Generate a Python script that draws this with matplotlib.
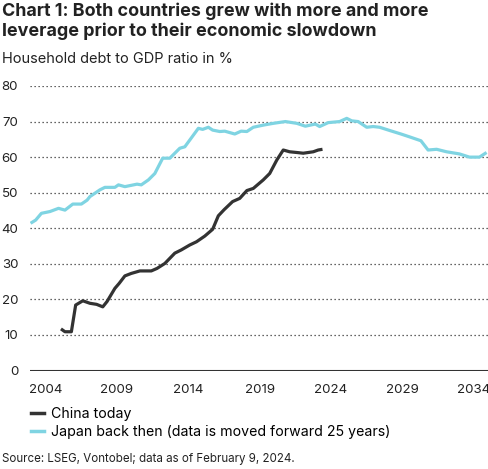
import matplotlib
matplotlib.use("Agg")
import matplotlib.pyplot as plt
from matplotlib.lines import Line2D

# ---- data ----
china_years = [2005.07, 2005.35, 2005.8, 2006.1, 2006.6, 2007.1, 2007.57, 2008.0, 2008.3,
               2008.85, 2009.15, 2009.55, 2010.0, 2010.6, 2011.4, 2011.8, 2012.35, 2013.05,
               2013.5, 2014.1, 2014.57, 2015.15, 2015.7, 2016.1, 2016.5, 2017.1, 2017.6,
               2018.1, 2018.55, 2019.25, 2019.7, 2020.2, 2020.65, 2021.1, 2021.6, 2022.05,
               2022.75, 2023.1, 2023.4]
china_values = [11.7, 10.9, 10.9, 18.4, 19.6, 18.9, 18.6, 17.9, 19.4,
                23.1, 24.5, 26.6, 27.3, 28.0, 28.0, 28.7, 30.1, 33.0,
                33.9, 35.3, 36.2, 37.8, 39.7, 43.5, 45.2, 47.5, 48.4,
                50.6, 51.2, 53.6, 55.4, 59.2, 62.0, 61.5, 61.3, 61.1,
                61.5, 62.0, 62.2]

japan_years = [2002.94, 2003.3, 2003.7, 2004.3, 2004.9, 2005.35, 2005.9, 2006.5, 2006.9,
               2007.1, 2007.8, 2008.15, 2008.85, 2009.1, 2009.55, 2010.4, 2010.7, 2011.2,
               2011.65, 2012.2, 2012.7, 2013.4, 2013.75, 2014.7, 2015.0, 2015.4, 2015.7,
               2016.2, 2016.55, 2017.25, 2017.7, 2018.1, 2018.55, 2019.25, 2019.95, 2020.8,
               2021.6, 2022.2, 2022.9, 2023.2, 2023.8, 2024.6, 2025.1, 2025.45, 2025.9,
               2026.5, 2026.95, 2027.4, 2028.1, 2028.9, 2029.5, 2030.3, 2030.8, 2031.4,
               2032.1, 2033.0, 2033.7, 2034.4, 2034.9]
japan_values = [41.4, 42.3, 44.2, 44.7, 45.6, 45.1, 46.8, 46.8, 47.9,
                48.9, 50.8, 51.5, 51.5, 52.2, 51.7, 52.4, 52.2, 53.6,
                55.4, 59.7, 59.7, 62.5, 62.9, 68.1, 67.8, 68.4, 67.6,
                67.2, 67.3, 66.5, 67.3, 67.2, 68.4, 69.0, 69.5, 70.0,
                69.5, 68.7, 69.3, 68.6, 69.7, 70.0, 70.9, 70.2, 70.0,
                68.4, 68.6, 68.4, 67.5, 66.5, 65.7, 64.6, 62.0, 62.2,
                61.5, 60.9, 60.0, 60.0, 61.3]

x_ticks = [2004, 2009, 2014, 2019, 2024, 2029, 2034]
y_ticks = [0, 10, 20, 30, 40, 50, 60, 70, 80]

title = "Chart 1: Both countries grew with more and more\nleverage prior to their economic slowdown"
subtitle = "Household debt to GDP ratio in %"
source = "Source: LSEG, Vontobel; data as of February 9, 2024."
labels = ["China today", "Japan back then (data is moved forward 25 years)"]

china_color = "#333333"
japan_color = "#7fd4e2"

plt.rcParams['font.family'] = ['Inter', 'DejaVu Sans']

W, H = 489, 469
fig = plt.figure(figsize=(W / 100, H / 100), dpi=100)
ax = fig.add_axes([30 / W, 1 - 370.5 / H, (488 - 30) / W, (370.5 - 86) / H])

ax.plot(japan_years, japan_values, color=japan_color, lw=2.3, solid_capstyle='butt', zorder=3)
ax.plot(china_years, china_values, color=china_color, lw=2.3, solid_capstyle='butt', zorder=4)

ax.set_xlim(2002.9, 2035.0)
ax.set_ylim(0, 80)
ax.set_xticks(x_ticks)
ax.set_xticklabels([str(t) for t in x_ticks])
ax.set_yticks(y_ticks)
ax.tick_params(axis='both', length=0, labelsize=9.6, colors='#222222')
ax.tick_params(axis='y', pad=8.5)
ax.tick_params(axis='x', pad=10)

for v in y_ticks[1:]:
    ax.axhline(v, color='#333333', lw=0.9, ls=(0, (1, 2.2)), zorder=1)
ax.axhline(0, color='#333333', lw=1.5, zorder=2)

for s in ax.spines.values():
    s.set_visible(False)

fig.text(2 / W, 1 - 2 / H, title, fontsize=12.9, fontweight='bold', va='top', ha='left',
         color='#222222', linespacing=1.22)
fig.text(2 / W, 1 - 59 / H, subtitle, fontsize=10.5, va='center', ha='left', color='#222222')

handles = [Line2D([0], [0], color=china_color, lw=2.5),
           Line2D([0], [0], color=japan_color, lw=2.5)]
fig.legend(handles, labels, loc='upper left', bbox_to_anchor=(27 / W, 1 - 403 / H),
           frameon=False, fontsize=10.2, handlelength=0.9, handletextpad=0.5,
           labelspacing=0.25, borderaxespad=0, borderpad=0.3)

fig.text(2 / W, 1 - 459 / H, source, fontsize=8.3, va='center', ha='left', color='#222222')

fig.savefig("out.png", dpi=100)
